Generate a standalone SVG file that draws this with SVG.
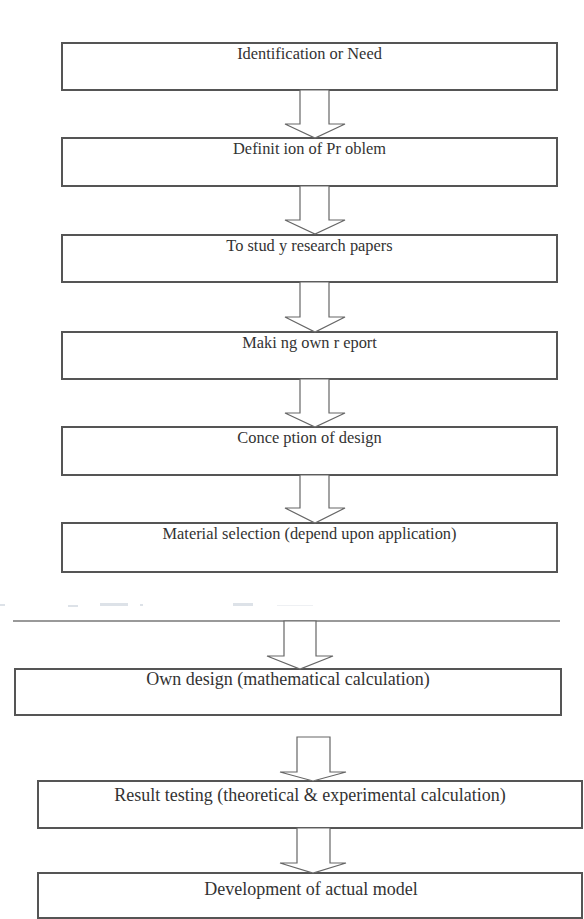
<svg xmlns="http://www.w3.org/2000/svg" width="584" height="919" viewBox="0 0 584 919">
<style>
.box{fill:#fff;stroke:#555;stroke-width:2}
.t{font-family:"Liberation Serif","Times New Roman",serif;fill:#333;text-anchor:middle}
.s{font-size:16.4px}
.b{font-size:18px}
.arr{fill:#fff;stroke:#666;stroke-width:1.2;stroke-linejoin:miter}
.sep{stroke:#999;stroke-width:2}
.smudge{fill:#dde2e8}
</style>
<rect width="584" height="919" fill="#fff"/>
<g id="n1"><rect class="box" x="62" y="43" width="495" height="47"/><text class="t s" x="309.5" y="58.5">Identification or Need</text></g>
<g id="n2"><rect class="box" x="62" y="138" width="495" height="48"/><text class="t s" x="309.5" y="154">Definit ion of Pr oblem</text></g>
<g id="n3"><rect class="box" x="62" y="235" width="495" height="47"/><text class="t s" x="309.5" y="251">To stud y research papers</text></g>
<g id="n4"><rect class="box" x="62" y="332" width="495" height="47"/><text class="t s" x="309.5" y="348">Maki ng own r eport</text></g>
<g id="n5"><rect class="box" x="62" y="427" width="495" height="48"/><text class="t s" x="309.5" y="443">Conce ption of design</text></g>
<g id="n6"><rect class="box" x="62" y="523" width="495" height="49"/><text class="t s" x="309.5" y="539">Material selection (depend upon application)</text></g>
<g id="n7"><rect class="box" x="15" y="669" width="546" height="46"/><text class="t b" x="288" y="685">Own design (mathematical calculation)</text></g>
<g id="n8"><rect class="box" x="38" y="781" width="544" height="47"/><text class="t b" x="310" y="801">Result testing (theoretical &amp; experimental calculation)</text></g>
<g id="n9"><rect class="box" x="38" y="873" width="544" height="45"/><text class="t b" x="311" y="895">Development of actual model</text></g>
<g id="smudges">
<rect class="smudge" x="0" y="604" width="5" height="2"/>
<rect class="smudge" x="68" y="605" width="10" height="2"/>
<rect class="smudge" x="100" y="603" width="28" height="3"/>
<rect class="smudge" x="140" y="604" width="3" height="2"/>
<rect class="smudge" x="233" y="603" width="20" height="3"/>
<rect class="smudge" x="277" y="605" width="36" height="1" opacity="0.5"/>
</g>
<line id="separator" class="sep" x1="13" y1="621" x2="560" y2="621"/>
<g id="connectors">
<polygon class="arr" points="300,90 329,90 329,124 345,124 315,138 285,124 300,124"/>
<polygon class="arr" points="300,186 329,186 329,220 345,220 315,234 285,220 300,220"/>
<polygon class="arr" points="300,282 329,282 329,317 345,317 315,332 285,317 300,317"/>
<polygon class="arr" points="300,379 329,379 329,413 345,413 315,427 285,413 300,413"/>
<polygon class="arr" points="300,475 329,475 329,508 345,508 315,523 285,508 300,508"/>
<polygon class="arr" points="284,621 316,621 316,656 333,656 300,669 267,656 284,656"/>
<polygon class="arr" points="297,737 330,737 330,772 346,772 313,781 280,772 297,772"/>
<polygon class="arr" points="297,828 330,828 330,863 346,863 313,873 280,863 297,863"/>
</g>
</svg>
